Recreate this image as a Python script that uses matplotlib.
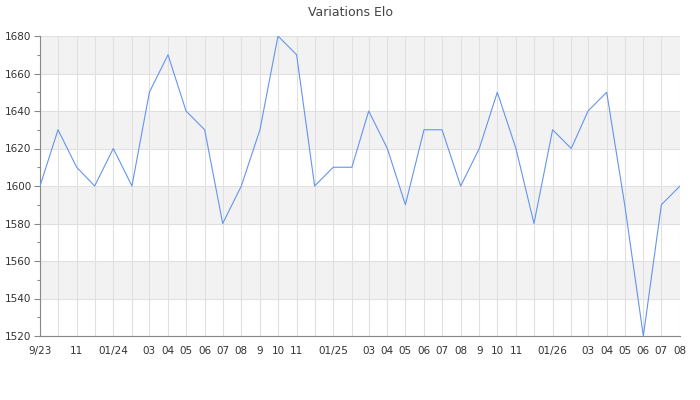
import datetime as dt
import matplotlib
matplotlib.use("Agg")
import matplotlib.pyplot as plt
from matplotlib.ticker import MultipleLocator

# monthly Elo, Sep 2023 -> Aug 2026
start_year, start_month = 2023, 9
elo = [1600, 1630, 1610, 1600, 1620, 1600, 1650, 1670, 1640, 1630, 1580, 1600,
       1630, 1680, 1670, 1600, 1610, 1610, 1640, 1620, 1590, 1630, 1630, 1600,
       1620, 1650, 1620, 1580, 1630, 1620, 1640, 1650, 1590, 1520, 1590, 1600]
month_labels = ["9/23", "", "11", "", "01/24", "", "03", "04", "05", "06", "07", "08",
                "9", "10", "11", "", "01/25", "", "03", "04", "05", "06", "07", "08",
                "9", "10", "11", "", "01/26", "", "03", "04", "05", "06", "07", "08"]
y_min, y_max = 1520, 1680

dates = []
for i in range(len(elo)):
    m = start_month - 1 + i
    dates.append(dt.date(start_year + m // 12, m % 12 + 1, 1))

fig = plt.figure(figsize=(7, 4), dpi=100)
ax = fig.add_axes([40 / 700, 64 / 400, 640 / 700, 300 / 400])

# alternating bands
for lo in range(y_min + 20, y_max, 40):
    ax.axhspan(lo, lo + 20, color="#f2f2f2", zorder=0, lw=0)

ax.plot(dates, elo, color="#6495ed", lw=0.8, zorder=3)

ax.set_xlim(dates[0], dates[-1])
ax.set_ylim(y_min, y_max)
ax.set_xticks(dates)
ax.set_xticklabels(month_labels)
ax.yaxis.set_major_locator(MultipleLocator(20))
ax.yaxis.set_minor_locator(MultipleLocator(10))

ax.grid(True, which="major", color="#e0e0e0", lw=0.8, zorder=1)
ax.set_axisbelow(True)

for s in ["top", "right"]:
    ax.spines[s].set_visible(False)
for s in ["left", "bottom"]:
    ax.spines[s].set_color("#888888")
    ax.spines[s].set_linewidth(0.8)

ax.tick_params(axis="x", length=0, pad=7, labelsize=7.5, colors="#333333")
ax.tick_params(axis="y", which="major", length=4, width=0.8, pad=2,
               labelsize=7.5, colors="#888888", labelcolor="#333333")
ax.tick_params(axis="y", which="minor", length=2.5, width=0.8, colors="#888888")

fig.suptitle("Variations Elo", x=0.5, y=1 - 12.5 / 400,
             va="center", fontsize=9, color="#444444")

fig.savefig("out.png", dpi=100)
